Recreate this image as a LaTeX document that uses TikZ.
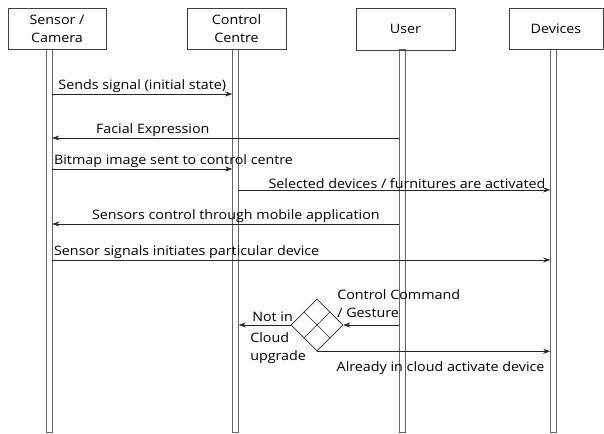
\documentclass[tikz,border=0pt]{standalone}
\usepackage{fontspec}
\setmainfont{Open Sans}[FakeStretch=1.1]
\usetikzlibrary{shapes.geometric,arrows.meta}
\begin{document}
\begin{tikzpicture}[x=1pt, y=-1pt, >={Stealth[length=7pt,width=5pt]}, line width=.6pt,
    font=\fontsize{13}{18}\selectfont,
    actor/.style={draw=black!75, minimum height=41pt, align=center, inner sep=0pt},
    lifebar/.style={draw=black!60, fill=white, minimum width=6pt, minimum height=383pt, inner sep=0pt},
    msg/.style={->, draw=black!85},
    lbl/.style={inner sep=1.5pt}]
\useasboundingbox (0,0) rectangle (604,433);

% lifelines
\foreach \n/\x in {sl/49, cl/235.5, ul/402, dl/553.5}
    \node[lifebar] (\n) at (\x,240.5) {};

% heads
\node[actor, minimum width=98pt] (sens) at (57,28.5) {Sensor /\\Camera};
\node[actor, minimum width=99pt] (ctrl) at (236.5,28.5) {Control\\Centre};
\node[actor, minimum width=99pt, minimum height=42pt] (user) at (405.5,29) {User};
\node[actor, minimum width=94pt] (dev) at (556,28.5) {Devices};

% messages
\draw[msg] (sl.east |- 0,94) -- node[lbl, above]{Sends signal (initial state)} (cl.west |- 0,94);
\draw[msg] (ul.west |- 0,138) -- node[lbl, above, pos=.71]{Facial Expression} (sl.east |- 0,138);
\draw[msg] (sl.east |- 0,169) -- node[lbl, above right, pos=0]{Bitmap image sent to control centre} (cl.west |- 0,169);
\draw[msg] (cl.east |- 0,190) -- node[lbl, above, pos=.54]{Selected devices / furnitures are activated} (dl.west |- 0,190);
\draw[msg] (ul.west |- 0,224) -- node[lbl, above, pos=.47]{Sensors control through mobile application} (sl.east |- 0,224);
\draw[msg] (sl.east |- 0,260) -- node[lbl, above right, pos=0]{Sensor signals initiates particular device} (dl.west |- 0,260);

% decision
\node[diamond, draw=black!85, minimum width=52pt, minimum height=52pt, inner sep=0pt] (dec) at (317,325) {};
\draw[black!85] (dec.north east) -- (dec.south west);
\draw[black!85] (dec.north west) -- (dec.south east);

\node[anchor=north west, align=left, inner sep=0pt] (cmd) at (337,289) {Control Command\\{/} Gesture};
\draw[msg] (ul.west |- dec.east) -- (dec.east);
\draw[msg] (dec.west) -- node[lbl, above, pos=.35, yshift=2pt]{Not in} (cl.east |- dec.west);
\node[anchor=north west, align=left, inner sep=0pt] (upg) at (250,332) {Cloud\\upgrade};
\draw[msg] (dec.south) -- node[lbl, below=9pt, pos=.53]{Already in cloud activate device} (dl.west |- dec.south);
\end{tikzpicture}
\end{document}
